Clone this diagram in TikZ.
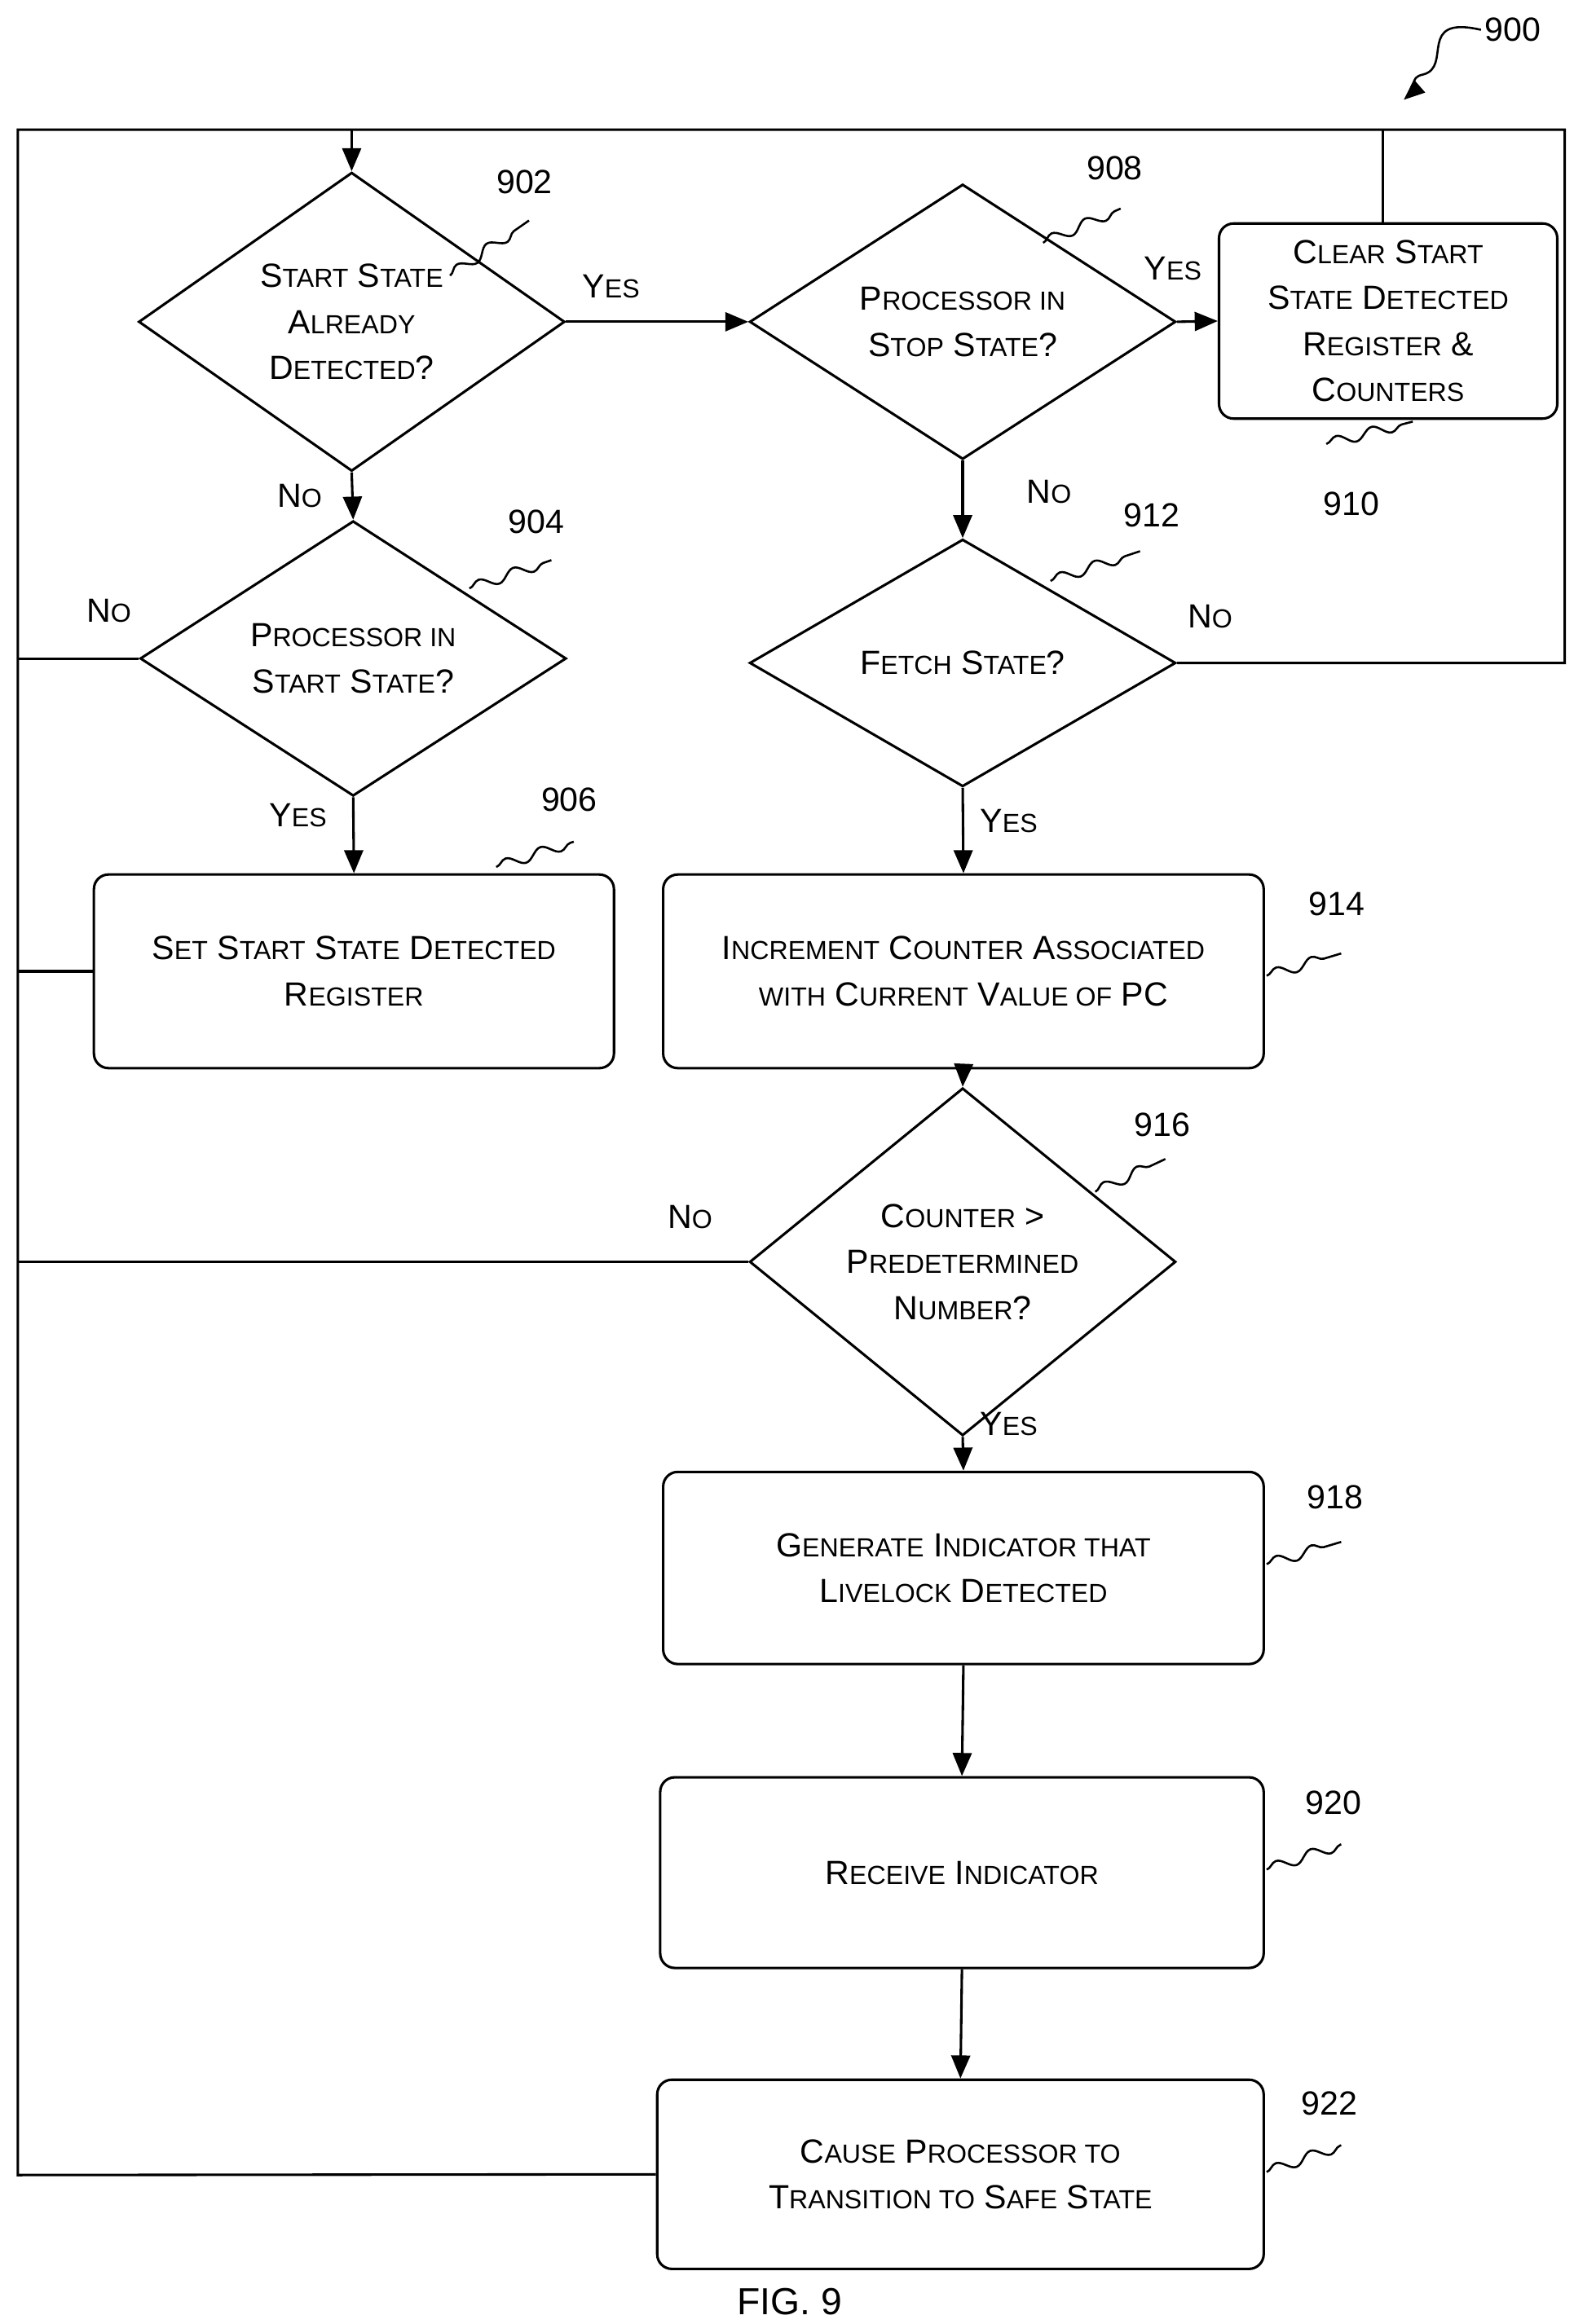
\documentclass[tikz,border=0pt]{standalone}
\usepackage{fontspec}
\setmainfont{Liberation Sans}
\usetikzlibrary{shapes.geometric,arrows.meta,decorations.pathmorphing}
\newcommand\sm[1]{{\fontsize{25}{44}\selectfont #1}}
\begin{document}
\begin{tikzpicture}[x=0.05cm,y=-0.05cm,
  every node/.style={font=\fontsize{32}{44}\selectfont},
  ln/.style={line width=2.4pt},
  ar/.style={ln,-{Triangle[length=22pt,width=18pt]}},
  dia/.style={diamond,draw,line width=2.4pt,minimum width=14.3cm,minimum height=8.3cm,inner sep=0pt,align=center},
  box/.style={draw,line width=2.4pt,rounded corners=14pt,align=center,inner sep=0pt},
  sq/.style={line width=2pt,decorate,decoration={snake,amplitude=5pt,segment length=35pt}},
  lab/.style={font=\fontsize{32}{40}\selectfont}]
\useasboundingbox (0,0) rectangle (1056,1560);
% nodes
\node[dia] (d902) at (236,216) {S\sm{TART} S\sm{TATE}\\A\sm{LREADY}\\D\sm{ETECTED}?};
\node[dia] (d908) at (646,216) {P\sm{ROCESSOR IN}\\S\sm{TOP} S\sm{TATE}?};
\node[box,minimum width=11.35cm,minimum height=6.55cm] (b910) at (931.5,215.5) {C\sm{LEAR} S\sm{TART}\\S\sm{TATE} D\sm{ETECTED}\\R\sm{EGISTER} \&\\C\sm{OUNTERS}};
\node[dia,minimum height=8.25cm] (d904) at (237,442) {P\sm{ROCESSOR IN}\\S\sm{TART} S\sm{TATE}?};
\node[box,minimum width=17.45cm,minimum height=6.5cm] (b906) at (237.5,652) {S\sm{ET} S\sm{TART} S\sm{TATE} D\sm{ETECTED}\\R\sm{EGISTER}};
\node[dia] (d912) at (646,445) {F\sm{ETCH} S\sm{TATE}?};
\node[box,minimum width=20.15cm,minimum height=6.5cm] (b914) at (646.5,652) {I\sm{NCREMENT} C\sm{OUNTER} A\sm{SSOCIATED}\\\sm{WITH} C\sm{URRENT} V\sm{ALUE OF} PC};
\node[dia] (d916) at (646,847) {C\sm{OUNTER} >\\P\sm{REDETERMINED}\\N\sm{UMBER}?};
\node[box,minimum width=20.15cm,minimum height=6.45cm] (b918) at (646.5,1052.5) {G\sm{ENERATE} I\sm{NDICATOR THAT}\\L\sm{IVELOCK} D\sm{ETECTED}};
\node[box,minimum width=20.25cm,minimum height=6.4cm] (b920) at (645.5,1257) {R\sm{ECEIVE} I\sm{NDICATOR}};
\node[box,minimum width=20.35cm,minimum height=6.35cm] (b922) at (644.5,1459.5) {C\sm{AUSE} P\sm{ROCESSOR TO}\\T\sm{RANSITION TO} S\sm{AFE} S\sm{TATE}};
% loop coordinates
\coordinate (tl) at (12,87);
\coordinate (tr) at (1050,87);
\coordinate (bl) at (12,1460);
\coordinate (t902) at (236,87);
\coordinate (t910) at (928,87);
% connectors
\draw[ln] (b922.west) -- (bl) -- (tl) -- (tr) |- (d912.east);
\draw[ar] (t902) -- (d902.north);
\draw[ln] (b910.north -| t910) -- (t910);
\draw[ar] (d902.east) -- (d908.west);
\draw[ar] (d908.east) -- (b910.west);
\draw[ar] (d902.south) -- (d904.north);
\draw[ar] (d904.south) -- (b906.north);
\draw[ln] (d904.west) -- (d904.west -| tl);
\draw[ln] (b906.west) -- (b906.west -| tl);
\draw[ln] (d916.west) -- (d916.west -| tl);
\draw[ar] (d908.south) -- (d912.north);
\draw[ar] (d912.south) -- (b914.north);
\draw[ar] (b914.south) -- (d916.north);
\draw[ar] (d916.south) -- (b918.north);
\draw[ar] (b918.south) -- (b920.north);
\draw[ar] (b920.south) -- (b922.north);
% yes/no labels
\node (y1) at (410,192) {Y\sm{ES}};
\node (y2) at (787,180) {Y\sm{ES}};
\node (n1) at (201,333) {N\sm{O}};
\node (n2) at (73,410) {N\sm{O}};
\node (y3) at (200,547) {Y\sm{ES}};
\node (n3) at (704,330) {N\sm{O}};
\node (n4) at (812,414) {N\sm{O}};
\node (y4) at (677,551) {Y\sm{ES}};
\node (n5) at (463,817) {N\sm{O}};
\node (y5) at (677,956) {Y\sm{ES}};
% reference numbers
\node[lab] (r900) at (1015,20) {900};
\node[lab] (r902) at (352,122) {902};
\node[lab] (r908) at (748,113) {908};
\node[lab] (r910) at (907,338) {910};
\node[lab] (r904) at (360,350) {904};
\node[lab] (r912) at (773,346) {912};
\node[lab] (r906) at (382,537) {906};
\node[lab] (r914) at (897,607) {914};
\node[lab] (r916) at (780,755) {916};
\node[lab] (r918) at (896,1005) {918};
\node[lab] (r920) at (895,1210) {920};
\node[lab] (r922) at (892,1412) {922};
\node[lab,font=\fontsize{36}{40}\selectfont] (fig) at (530,1545) {FIG. 9};
% squiggles
\coordinate (s900) at (942,67);
\draw[line width=2pt,-{Triangle[length=20pt,width=16pt]}] (r900.west) .. controls (950,10) and (975,45) .. (955,50) .. controls (945,52) and (950,60) .. (s900);
\draw[sq] (302,185) -- (355,148);
\draw[sq] (700,163) -- (752,140);
\draw[sq] (890,298) -- (948,283);
\draw[sq] (315,395) -- (370,376);
\draw[sq] (705,390) -- (765,370);
\draw[sq] (333,582) -- (385,565);
\draw[sq] (850,655) -- (900,640);
\draw[sq] (735,800) -- (782,778);
\draw[sq] (850,1050) -- (900,1035);
\draw[sq] (850,1255) -- (900,1238);
\draw[sq] (850,1458) -- (900,1440);
\end{tikzpicture}
\end{document}
